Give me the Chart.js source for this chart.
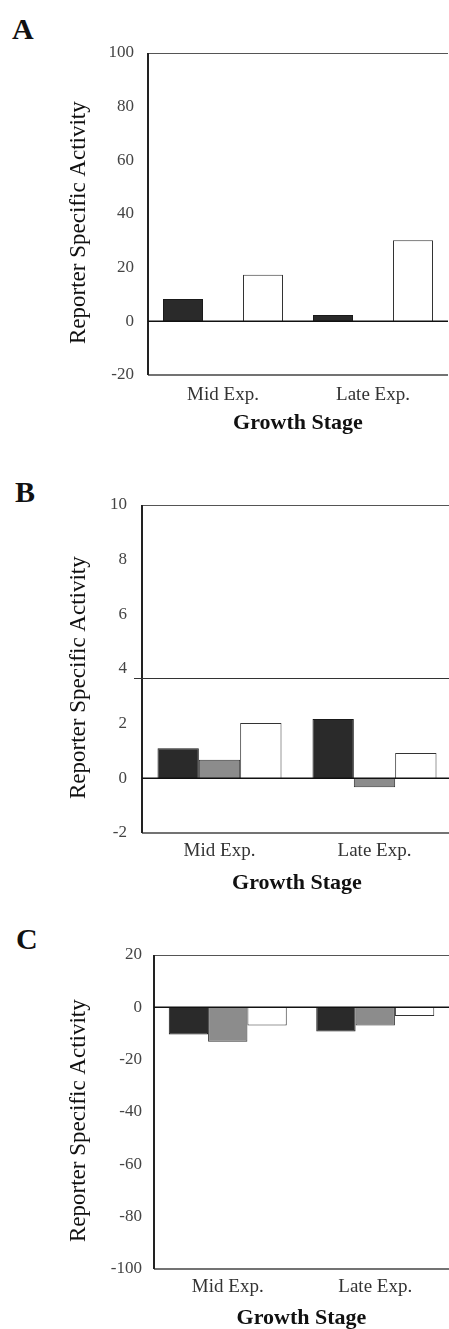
<!DOCTYPE html>
<html>
<head>
<meta charset="utf-8">
<script src="https://cdn.jsdelivr.net/npm/chart.js@4.4.0/dist/chart.umd.min.js"></script>
<style>
body{margin:0;background:#fff;}
#page{position:relative;width:449px;height:1329px;overflow:hidden;background:#fff;}
canvas{position:absolute;left:0;}
.lbl{position:absolute;font-family:'Liberation Serif',serif;font-weight:bold;font-size:30px;color:#111;}
</style>
</head>
<body>
<div id="page">
  <div class="lbl" style="left:12px;top:12px">A</div>
  <div class="lbl" style="left:15px;top:475px">B</div>
  <div class="lbl" style="left:16px;top:922px">C</div>
  <canvas id="chartA" width="470" height="400" style="top:40px"></canvas>
  <canvas id="chartB" width="470" height="420" style="top:490px"></canvas>
  <canvas id="chartC" width="470" height="400" style="top:940px"></canvas>
</div>
<script>
// growth stages on the x axis
const stages = ['Mid Exp.', 'Late Exp.'];

// panel A
const aDark  = [8.3, 2.4];
const aGray  = [0, 0];
const aWhite = [17.4, 30.2];

// panel B
const bDark  = [1.1, 2.17];
const bGray  = [0.68, -0.33];
const bWhite = [2.02, 0.93];
const bRefLine = 3.66;

// panel C
const cDark  = [-10.4, -9.2];
const cGray  = [-13.2, -6.9];
const cWhite = [-6.9, -3.3];

const serif = "'Liberation Serif', 'Times New Roman', serif";

// draws the box round the plot and an optional horizontal line
const framePlugin = {
  id: 'frame',
  afterDraw(chart, args, opts) {
    const ctx = chart.ctx, a = chart.chartArea;
    ctx.save();
    ctx.strokeStyle = '#555';
    ctx.lineWidth = 1;
    ctx.beginPath();
    ctx.moveTo(a.left, a.top + 0.5);
    ctx.lineTo(a.right, a.top + 0.5);
    ctx.stroke();
    ctx.strokeStyle = '#444';
    ctx.lineWidth = 1.5;
    ctx.beginPath();
    ctx.moveTo(a.left, a.bottom);
    ctx.lineTo(a.right, a.bottom);
    ctx.stroke();
    ctx.strokeStyle = '#222';
    ctx.lineWidth = 2;
    ctx.beginPath();
    ctx.moveTo(a.left, a.top);
    ctx.lineTo(a.left, a.bottom);
    ctx.stroke();
    // zero line
    const y0 = chart.scales.y.getPixelForValue(0);
    ctx.strokeStyle = '#111';
    ctx.lineWidth = 1.5;
    ctx.beginPath();
    ctx.moveTo(a.left, y0);
    ctx.lineTo(a.right, y0);
    ctx.stroke();
    if (opts.refLine != null) {
      const yr = chart.scales.y.getPixelForValue(opts.refLine);
      ctx.strokeStyle = '#333';
      ctx.lineWidth = 1;
      ctx.beginPath();
      ctx.moveTo(a.left - 8, Math.round(yr) + 0.5);
      ctx.lineTo(a.right, Math.round(yr) + 0.5);
      ctx.stroke();
    }
    ctx.restore();
  }
};

function makeChart(id, dark, gray, white, yMin, yMax, yStep, box, refLine) {
  const cv = document.getElementById(id);
  const W = cv.width, H = cv.height;
  return new Chart(cv, {
    type: 'bar',
    data: {
      labels: stages,
      datasets: [
        {data: dark,  backgroundColor: '#2a2a2a', borderColor: '#1a1a1a', borderWidth: 1},
        {data: gray,  backgroundColor: '#8c8c8c', borderColor: '#333', borderWidth: 1},
        {data: white, backgroundColor: '#ffffff', borderColor: '#333', borderWidth: 1}
      ]
    },
    options: {
      responsive: false,
      animation: false,
      categoryPercentage: 0.8,
      barPercentage: 1.0,
      layout: {padding: {top: box.top, right: W - box.right, left: 0, bottom: 0}},
      plugins: {
        legend: {display: false},
        tooltip: {enabled: false},
        frame: {refLine: refLine}
      },
      scales: {
        x: {
          grid: {display: false, drawTicks: false},
          border: {display: false},
          ticks: {color: '#333', font: {family: serif, size: 19}, padding: box.xtPad},
          title: {display: true, text: 'Growth Stage', color: '#111',
                  font: {family: serif, size: 22, weight: 'bold'}, padding: {top: 0, bottom: box.xTitlePad}},
          afterFit(s) { s.height = H - box.bottom; }
        },
        y: {
          min: yMin, max: yMax,
          grid: {display: false, drawTicks: false},
          border: {display: false},
          ticks: {stepSize: yStep, color: '#444', font: {family: serif, size: 17}, padding: box.ytPad},
          // trailing spaces push the rotated title a little lower, as in the original
          title: {display: true, text: 'Reporter Specific Activity   ', color: '#111',
                  font: {family: serif, size: 23}, padding: {top: 65, bottom: 0}},
          afterFit(s) {
            s.width = box.left;
            s.paddingTop = 0;
            s.paddingBottom = 0;
          }
        }
      }
    },
    plugins: [framePlugin]
  });
}

makeChart('chartA', aDark, aGray, aWhite, -20, 100, 20,
  {top: 13, bottom: 335, left: 148, right: 448, ytPad: 14, xtPad: 9, xTitlePad: 3}, null);
makeChart('chartB', bDark, bGray, bWhite, -2, 10, 2,
  {top: 15, bottom: 343, left: 142, right: 452, ytPad: 15, xtPad: 7, xTitlePad: 13}, bRefLine);
makeChart('chartC', cDark, cGray, cWhite, -100, 20, 20,
  {top: 15, bottom: 329, left: 154, right: 449, ytPad: 12, xtPad: 7, xTitlePad: 8}, null);
</script>
</body>
</html>
